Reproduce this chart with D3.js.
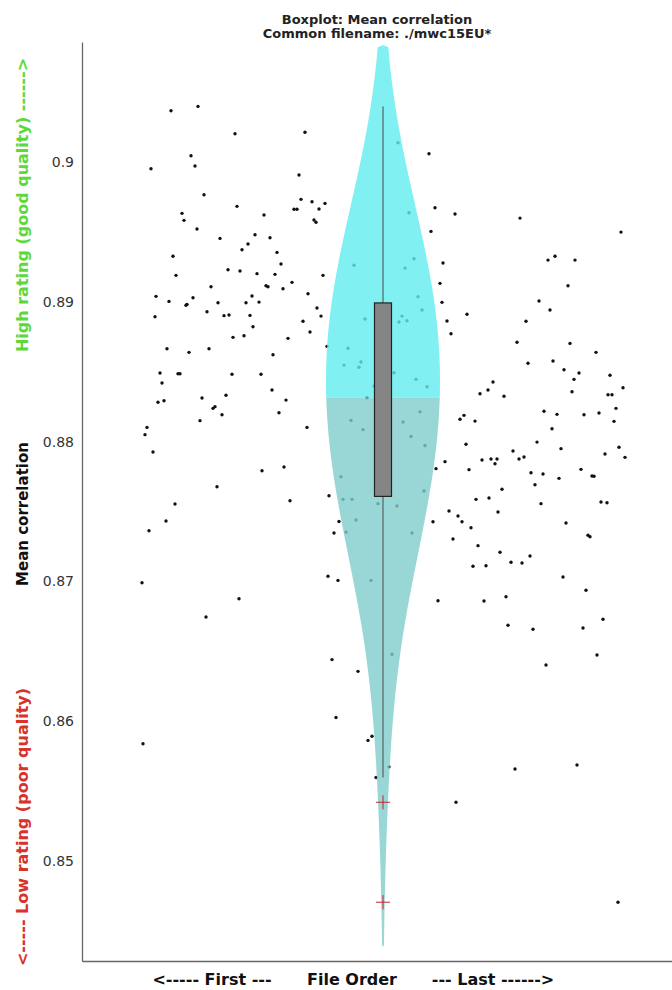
<!DOCTYPE html>
<html><head><meta charset="utf-8">
<script src="https://cdn.jsdelivr.net/npm/d3@7"></script>
<style>html,body{margin:0;padding:0;background:#fff;} svg{display:block;font-family:"DejaVu Sans",sans-serif;}</style>
</head><body><svg id="chart" width="672" height="990"></svg>
<script>
// ---------------- data ----------------
const titleLines = ["Boxplot: Mean correlation", "Common filename: ./mwc15EU*"];
const yTicks = [0.85, 0.86, 0.87, 0.88, 0.89, 0.9];
const yDomain = [0.84289, 0.90854];
const xDomain = [0, 590];
const xLabels = ["<----- First ---", "File Order", "--- Last ------>"];
const yLabelGood = "High rating (good quality) ------>";
const yLabelMid = "Mean correlation";
const yLabelBad = "<----- Low rating (poor quality)";

// file order position of each file
const fileOrder = [89,116,153,223,109,113,69,217,122,155,219,212,215,230,237,243,232,234,100,102,
182,115,138,173,188,166,160,195,91,199,94,146,158,175,193,241,129,184,186,201,
210,74,87,104,105,111,170,136,164,177,226,73,125,142,147,168,171,235,239,221,
228,151,162,206,245,85,107,127,191,78,96,98,80,150,179,120,144,190,76,82,
131,133,204,118,140,197,65,63,225,71,180,202,135,93,208,247,84,67,60,246,
157,124,61,257,252,256,250,276,254,286,290,307,294,316,347,327,272,332,323,336,
340,283,320,317,325,266,262,277,279,312,334,345,292,285,269,281,321,338,329,343,
259,261,270,264,274,296,315,342,330,289,310,353,373,438,349,539,361,466,473,493,
358,486,360,457,468,365,385,444,369,435,488,514,446,471,482,497,492,528,541,411,
406,398,422,490,526,530,534,378,382,393,462,475,502,517,532,470,384,455,431,479,
523,537,543,363,354,400,409,415,413,437,442,387,449,461,477,499,510,512,453,420,
394,407,459,519,525,367,416,351,376,380,389,484,506,508,371,396,418,448,391,404,
429,440,481,504,356,402,424,521,426,451,501,515,464,433,495,374,536];

// mean correlation of each file
const meanCorr = [0.90363,0.90394,0.90199,0.90209,0.90041,0.89968,0.89949,0.89904,0.89763,0.89680,
0.89730,0.89659,0.89659,0.89713,0.89661,0.89701,0.89582,0.89566,0.89630,0.89580,
0.89618,0.89518,0.89451,0.89477,0.89456,0.89411,0.89370,0.89351,0.89323,0.89268,
0.89187,0.89227,0.89218,0.89199,0.89194,0.89187,0.89106,0.89113,0.89106,0.89091,
0.89137,0.89037,0.89001,0.88973,0.88980,0.89027,0.89039,0.88991,0.88991,0.88996,
0.89056,0.88891,0.88927,0.88899,0.88904,0.88901,0.88820,0.88954,0.88896,0.88859,
0.88782,0.88744,0.88756,0.88737,0.88680,0.88663,0.88637,0.88663,0.88620,0.88489,
0.88484,0.88484,0.88418,0.88480,0.88480,0.88311,0.88330,0.88368,0.88280,0.88291,
0.88237,0.88249,0.88296,0.88149,0.88191,0.88206,0.88101,0.88049,0.88101,0.87925,
0.87791,0.87818,0.87677,0.87554,0.87577,0.87613,0.87432,0.87363,0.86991,0.87037,
0.86877,0.86746,0.85841,0.87429,0.87347,0.87008,0.86442,0.86358,0.86029,0.85865,
0.85894,0.85676,0.85600,0.90134,0.90056,0.89634,0.89259,0.89306,0.89239,0.89034,
0.88939,0.88875,0.88896,0.88854,0.88863,0.88666,0.88546,0.88530,0.88568,0.88491,
0.88444,0.88391,0.88396,0.88313,0.88151,0.88085,0.88139,0.88212,0.88036,0.87972,
0.87748,0.87587,0.87587,0.87353,0.87439,0.87556,0.87539,0.87646,0.87347,0.87008,
0.86480,0.89670,0.89625,0.89596,0.89501,0.89496,0.89275,0.89296,0.89323,0.89296,
0.89130,0.89113,0.88994,0.89004,0.88939,0.88861,0.88909,0.88859,0.88770,0.88709,
0.88701,0.88637,0.88559,0.88575,0.88513,0.88489,0.88444,0.88473,0.88384,0.88425,
0.88368,0.88341,0.88323,0.88356,0.88334,0.88334,0.88237,0.88159,0.88187,0.88146,
0.88216,0.88194,0.88191,0.88204,0.88144,0.88091,0.87980,0.87996,0.87932,0.87949,
0.87911,0.87959,0.87887,0.87856,0.87806,0.87868,0.87875,0.87875,0.87841,0.87875,
0.87889,0.87799,0.87777,0.87768,0.87737,0.87801,0.87754,0.87752,0.87691,0.87659,
0.87587,0.87596,0.87556,0.87568,0.87563,0.87504,0.87496,0.87427,0.87468,0.87427,
0.87384,0.87418,0.87330,0.87320,0.87304,0.87256,0.87209,0.87182,0.87109,0.87113,
0.87137,0.87132,0.87032,0.86937,0.86863,0.86861,0.86891,0.86730,0.86687,0.86659,
0.86668,0.86475,0.86404,0.85661,0.85689,0.85423,0.84709];

// box plot quartiles [q1, median, q3]
const boxQuartiles = [0.87608, 0.88313, 0.88990];
// violin extent [bottom tip, top tip] and kernel bandwidth
const violinRange = [0.8439, 0.9083];
const kdeBandwidth = 0.0068;

// ---------------- layout ----------------
const svg = d3.select("#chart");
const plot = {left: 82, right: 672, top: 42, bottom: 961};
const violinX = 383, violinHalf = 57, boxHalf = 8.5;

const x = d3.scaleLinear().domain(xDomain).range([plot.left, plot.right]);
const y = d3.scaleLinear().domain(yDomain).range([plot.bottom, plot.top]);

const points = fileOrder.map((o, i) => ({o, v: meanCorr[i]}));
const iqr = boxQuartiles[2] - boxQuartiles[0];
const fences = [boxQuartiles[0] - 1.5 * iqr, boxQuartiles[2] + 1.5 * iqr];
const outliers = meanCorr.filter(v => v < fences[0] || v > fences[1]);
const inliers = meanCorr.filter(v => v >= fences[0] && v <= fences[1]);
const whiskers = d3.extent(inliers);

// clip
svg.append("defs").append("clipPath").attr("id", "clip")
  .append("rect").attr("x", plot.left).attr("y", plot.top)
  .attr("width", plot.right - plot.left).attr("height", plot.bottom - plot.top);

const g = svg.append("g").attr("clip-path", "url(#clip)");

// dots
g.append("g").selectAll("circle").data(points).join("circle")
  .attr("cx", d => x(d.o)).attr("cy", d => y(d.v)).attr("r", 1.7)
  .attr("fill", "#111");

// violin (kernel density)
const bw = kdeBandwidth;
const kde = v => d3.mean(meanCorr, xi => Math.exp(-0.5 * ((v - xi) / bw) ** 2)) / (bw * Math.sqrt(2 * Math.PI));
const N = 400;
const grid = d3.range(N + 1).map(i => violinRange[0] + (violinRange[1] - violinRange[0]) * i / N);
const med = boxQuartiles[1];
const dens = v => ({v, d: (v <= violinRange[0] || v >= violinRange[1]) ? 0 : kde(v)});
const lowerD = grid.filter(v => v < med).concat([med]).map(dens);
const upperD = [med].concat(grid.filter(v => v > med)).map(dens);
const maxD = d3.max(lowerD.concat(upperD), d => d.d);
const w = d3.scaleLinear().domain([0, maxD]).range([0, violinHalf]);
const area = d3.area()
  .y(d => y(d.v))
  .x0(d => violinX - w(d.d))
  .x1(d => violinX + w(d.d))
  .curve(d3.curveMonotoneY);
g.append("path").datum(upperD).attr("d", area)
  .attr("fill", "rgb(96,236,239)").attr("fill-opacity", 0.8);
g.append("path").datum(lowerD).attr("d", area)
  .attr("fill", "rgb(127,204,204)").attr("fill-opacity", 0.8);

// whisker
g.append("line").attr("x1", violinX).attr("x2", violinX)
  .attr("y1", y(whiskers[0])).attr("y2", y(whiskers[1]))
  .attr("stroke", "#4a4a4a").attr("stroke-width", 1);

// box
g.append("rect").attr("x", violinX - boxHalf).attr("width", boxHalf * 2)
  .attr("y", y(boxQuartiles[2])).attr("height", y(boxQuartiles[0]) - y(boxQuartiles[2]))
  .attr("fill", "#858585").attr("stroke", "#222").attr("stroke-width", 1.2);

// outlier crosses
const cross = g.append("g").selectAll("g").data(outliers).join("g")
  .attr("transform", d => `translate(${violinX},${y(d)})`);
cross.append("line").attr("x1", -7).attr("x2", 7).attr("stroke", "#c8232c").attr("stroke-width", 1);
cross.append("line").attr("y1", -7).attr("y2", 7).attr("stroke", "#c8232c").attr("stroke-width", 1);

// axes
const yAxis = d3.axisLeft(y).tickValues(yTicks).tickSize(0).tickSizeOuter(0).tickPadding(8)
  .tickFormat(d3.format("~g"));
const ya = svg.append("g").attr("transform", `translate(${plot.left},0)`).call(yAxis);
ya.select(".domain").attr("stroke", "#666").attr("stroke-width", 1.3);
ya.selectAll("text").attr("font-size", 14).attr("fill", "#333").attr("font-family", "DejaVu Sans");

const xAxis = d3.axisBottom(x).tickValues([]).tickSize(0).tickSizeOuter(0);
const xa = svg.append("g").attr("transform", `translate(0,${plot.bottom})`).call(xAxis);
xa.select(".domain").attr("stroke", "#666").attr("stroke-width", 1.3);

// x labels
const xLabelPos = [212, 352, 493];
svg.append("g").selectAll("text").data(xLabels).join("text")
  .attr("x", (d, i) => xLabelPos[i]).attr("y", 985)
  .attr("text-anchor", "middle").attr("font-size", 16).attr("font-weight", "bold")
  .attr("fill", "#111").text(d => d);

// y labels (rotated)
const yLab = [
  {t: yLabelGood, c: 205, color: "#5cd83a", size: 16},
  {t: yLabelMid, c: 514, color: "#111", size: 15},
  {t: yLabelBad, c: 827, color: "#d8322a", size: 16}
];
svg.append("g").selectAll("text").data(yLab).join("text")
  .attr("transform", d => `translate(27.5,${d.c}) rotate(-90)`)
  .attr("text-anchor", "middle").attr("font-weight", "bold")
  .attr("font-size", d => d.size).attr("fill", d => d.color).text(d => d.t);

// title
svg.append("g").selectAll("text").data(titleLines).join("text")
  .attr("x", 377).attr("y", (d, i) => 24 + i * 14)
  .attr("text-anchor", "middle").attr("font-size", 13).attr("font-weight", "bold")
  .attr("fill", "#222").text(d => d);
</script></body></html>
